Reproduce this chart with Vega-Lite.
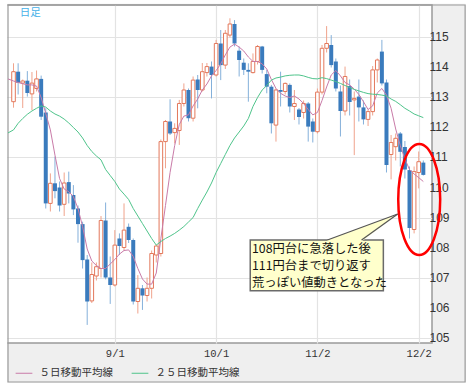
{
  "$schema": "https://vega.github.io/schema/vega-lite/v6.json",
  "autosize": "none",
  "width": 429,
  "height": 338,
  "padding": {"left": 3, "top": 5, "right": 44, "bottom": 44},
  "background": "#efefef",
  "config": {
    "view": {"fill": "white", "stroke": "#9a9a9a", "strokeWidth": 1.5},
    "axis": {"ticks": false, "tickSize": 0, "domain": false, "gridColor": "#e3e3e3", "gridWidth": 1.2, "labelColor": "#333333", "title": null}
  },
  "datasets": {
    "ohlc": [
      {"i": -1.2, "m5": 113.62, "m25": 111.82},
      {"i": 0, "o": 112.86, "h": 114.14, "l": 112.66, "c": 113.86, "m5": 113.55, "m25": 111.92},
      {"i": 1, "o": 113.86, "h": 114.14, "l": 113.1, "c": 113.49, "m5": 113.5, "m25": 112.14},
      {"i": 2, "o": 113.48, "h": 113.6, "l": 112.65, "c": 113.55, "m5": 113.46, "m25": 112.3},
      {"i": 3, "o": 113.56, "h": 113.88, "l": 113.03, "c": 113.15, "m5": 113.42, "m25": 112.44},
      {"i": 4, "o": 113.12, "h": 113.85, "l": 112.58, "c": 113.48, "m5": 113.42, "m25": 112.55},
      {"i": 5, "o": 113.3, "h": 113.9, "l": 113.2, "c": 113.62, "m5": 113.38, "m25": 112.64},
      {"i": 6, "o": 113.62, "h": 113.73, "l": 112.25, "c": 112.36, "m5": 113.0, "m25": 112.72},
      {"i": 7, "o": 112.5, "h": 112.64, "l": 109.3, "c": 109.47, "m5": 112.47, "m25": 112.68},
      {"i": 8, "o": 109.47, "h": 110.47, "l": 109.2, "c": 110.14, "m5": 111.92, "m25": 112.55},
      {"i": 9, "o": 110.14, "h": 111.03, "l": 109.64, "c": 109.88, "m5": 111.08, "m25": 112.45},
      {"i": 10, "o": 110.0, "h": 110.2, "l": 109.2, "c": 109.4, "m5": 110.3, "m25": 112.38},
      {"i": 11, "o": 109.44, "h": 110.5, "l": 109.05, "c": 110.15, "m5": 109.95, "m25": 112.28},
      {"i": 12, "o": 110.18, "h": 110.53, "l": 109.47, "c": 109.8, "m5": 109.86, "m25": 112.15},
      {"i": 13, "o": 109.75, "h": 110.08, "l": 109.08, "c": 109.27, "m5": 109.7, "m25": 112.0},
      {"i": 14, "o": 109.3, "h": 109.4, "l": 108.16, "c": 108.78, "m5": 109.3, "m25": 111.85},
      {"i": 15, "o": 108.78, "h": 108.86, "l": 107.3, "c": 107.58, "m5": 108.7, "m25": 111.65},
      {"i": 16, "o": 107.6, "h": 107.75, "l": 105.42, "c": 106.2, "m5": 107.95, "m25": 111.4},
      {"i": 17, "o": 106.22, "h": 107.5, "l": 106.15, "c": 107.1, "m5": 107.55, "m25": 111.2},
      {"i": 18, "o": 107.05, "h": 107.5, "l": 106.9, "c": 107.36, "m5": 107.4, "m25": 111.05},
      {"i": 19, "o": 107.3, "h": 109.05, "l": 107.0, "c": 108.9, "m5": 107.3, "m25": 110.92},
      {"i": 20, "o": 108.9, "h": 109.5, "l": 106.94, "c": 107.0, "m5": 107.3, "m25": 110.6},
      {"i": 21, "o": 107.0, "h": 107.7, "l": 106.12, "c": 106.75, "m5": 107.45, "m25": 110.4},
      {"i": 22, "o": 106.75, "h": 108.58, "l": 106.7, "c": 108.08, "m5": 107.6, "m25": 110.2},
      {"i": 23, "o": 108.3, "h": 108.47, "l": 107.75, "c": 108.05, "m5": 107.78, "m25": 109.95},
      {"i": 24, "o": 108.0, "h": 109.47, "l": 107.9, "c": 108.58, "m5": 107.9, "m25": 109.78},
      {"i": 25, "o": 108.69, "h": 108.8, "l": 108.15, "c": 108.25, "m5": 107.92, "m25": 109.6},
      {"i": 26, "o": 108.25, "h": 108.3, "l": 106.1, "c": 106.2, "m5": 107.7, "m25": 109.3},
      {"i": 27, "o": 106.2, "h": 107.08, "l": 105.8, "c": 106.64, "m5": 107.3, "m25": 109.05},
      {"i": 28, "o": 106.64, "h": 106.75, "l": 105.92, "c": 106.4, "m5": 106.95, "m25": 108.8},
      {"i": 29, "o": 106.4, "h": 107.0, "l": 106.2, "c": 106.64, "m5": 106.78, "m25": 108.55},
      {"i": 30, "o": 106.64, "h": 107.9, "l": 106.3, "c": 107.8, "m5": 106.78, "m25": 108.3},
      {"i": 31, "o": 107.75, "h": 108.1, "l": 107.5, "c": 108.05, "m5": 107.15, "m25": 108.08},
      {"i": 32, "o": 107.8, "h": 111.6, "l": 107.7, "c": 111.53, "m5": 108.3, "m25": 108.2},
      {"i": 33, "o": 111.53, "h": 112.25, "l": 110.64, "c": 112.2, "m5": 109.4, "m25": 108.3},
      {"i": 34, "o": 112.2, "h": 112.94, "l": 111.75, "c": 111.8, "m5": 110.5, "m25": 108.38},
      {"i": 35, "o": 111.83, "h": 112.14, "l": 111.47, "c": 111.97, "m5": 111.4, "m25": 108.47},
      {"i": 36, "o": 111.9, "h": 112.92, "l": 111.42, "c": 112.8, "m5": 112.1, "m25": 108.58},
      {"i": 37, "o": 112.8, "h": 113.47, "l": 112.7, "c": 113.25, "m5": 112.38, "m25": 108.7},
      {"i": 38, "o": 113.25, "h": 113.3, "l": 112.2, "c": 112.31, "m5": 112.42, "m25": 108.85},
      {"i": 39, "o": 112.31, "h": 113.7, "l": 112.2, "c": 113.58, "m5": 112.72, "m25": 109.0},
      {"i": 40, "o": 113.6, "h": 113.75, "l": 112.64, "c": 113.25, "m5": 112.95, "m25": 109.3},
      {"i": 41, "o": 113.25, "h": 114.15, "l": 113.2, "c": 113.86, "m5": 113.25, "m25": 109.58},
      {"i": 42, "o": 113.83, "h": 114.15, "l": 113.7, "c": 114.03, "m5": 113.45, "m25": 109.85},
      {"i": 43, "o": 114.03, "h": 114.2, "l": 112.97, "c": 113.75, "m5": 113.72, "m25": 110.15},
      {"i": 44, "o": 113.75, "h": 114.92, "l": 113.7, "c": 114.8, "m5": 113.9, "m25": 110.5},
      {"i": 45, "o": 114.8, "h": 115.25, "l": 113.58, "c": 114.08, "m5": 114.12, "m25": 110.8},
      {"i": 46, "o": 114.08, "h": 115.25, "l": 113.95, "c": 115.14, "m5": 114.42, "m25": 111.1},
      {"i": 47, "o": 115.08, "h": 115.64, "l": 115.0, "c": 115.45, "m5": 114.68, "m25": 111.4},
      {"i": 48, "o": 115.45, "h": 115.58, "l": 114.7, "c": 114.8, "m5": 114.78, "m25": 111.65},
      {"i": 49, "o": 114.56, "h": 114.7, "l": 113.7, "c": 114.25, "m5": 114.68, "m25": 111.85},
      {"i": 50, "o": 114.16, "h": 114.3, "l": 113.75, "c": 113.92, "m5": 114.55, "m25": 112.05},
      {"i": 51, "o": 113.92, "h": 114.14, "l": 112.86, "c": 113.86, "m5": 114.35, "m25": 112.3},
      {"i": 52, "o": 113.83, "h": 114.47, "l": 113.8, "c": 114.2, "m5": 114.2, "m25": 112.7},
      {"i": 53, "o": 114.2, "h": 114.75, "l": 114.1, "c": 114.7, "m5": 114.2, "m25": 113.0},
      {"i": 54, "o": 114.7, "h": 114.72, "l": 113.8, "c": 113.92, "m5": 114.12, "m25": 113.25},
      {"i": 55, "o": 113.78, "h": 113.92, "l": 113.14, "c": 113.36, "m5": 113.95, "m25": 113.4},
      {"i": 56, "o": 113.36, "h": 113.42, "l": 111.8, "c": 112.14, "m5": 113.6, "m25": 113.58},
      {"i": 57, "o": 112.08, "h": 113.3, "l": 111.53, "c": 113.25, "m5": 113.3, "m25": 113.65},
      {"i": 58, "o": 113.25, "h": 113.86, "l": 112.7, "c": 113.19, "m5": 113.14, "m25": 113.68},
      {"i": 59, "o": 113.2, "h": 113.5, "l": 113.1, "c": 113.47, "m5": 113.05, "m25": 113.72},
      {"i": 60, "o": 113.42, "h": 113.47, "l": 112.5, "c": 112.7, "m5": 113.0, "m25": 113.74},
      {"i": 61, "o": 112.7, "h": 113.25, "l": 112.25, "c": 112.8, "m5": 113.05, "m25": 113.75},
      {"i": 62, "o": 112.6, "h": 112.65, "l": 112.1, "c": 112.35, "m5": 112.95, "m25": 113.75},
      {"i": 63, "o": 112.5, "h": 112.9, "l": 112.3, "c": 112.8, "m5": 112.8, "m25": 113.72},
      {"i": 64, "o": 112.8, "h": 112.85, "l": 111.53, "c": 112.03, "m5": 112.6, "m25": 113.67},
      {"i": 65, "o": 112.2, "h": 112.3, "l": 111.5, "c": 111.86, "m5": 112.42, "m25": 113.63},
      {"i": 66, "o": 111.86, "h": 113.3, "l": 111.8, "c": 113.18, "m5": 112.5, "m25": 113.62},
      {"i": 67, "o": 113.18, "h": 114.75, "l": 113.1, "c": 114.64, "m5": 112.9, "m25": 113.66},
      {"i": 68, "o": 114.64, "h": 115.38, "l": 114.5, "c": 114.8, "m5": 113.35, "m25": 113.63},
      {"i": 69, "o": 114.75, "h": 115.08, "l": 114.0, "c": 114.08, "m5": 113.75, "m25": 113.58},
      {"i": 70, "o": 114.2, "h": 114.3, "l": 113.2, "c": 113.3, "m5": 113.9, "m25": 113.53},
      {"i": 71, "o": 113.2, "h": 113.4, "l": 111.7, "c": 112.55, "m5": 113.72, "m25": 113.47},
      {"i": 72, "o": 112.55, "h": 114.03, "l": 112.4, "c": 113.7, "m5": 113.5, "m25": 113.4},
      {"i": 73, "o": 113.38, "h": 113.6, "l": 112.4, "c": 112.85, "m5": 113.42, "m25": 113.33},
      {"i": 74, "o": 112.92, "h": 113.2, "l": 111.08, "c": 112.97, "m5": 113.28, "m25": 113.27},
      {"i": 75, "o": 113.03, "h": 113.6, "l": 112.2, "c": 112.67, "m5": 113.1, "m25": 113.22},
      {"i": 76, "o": 112.67, "h": 112.9, "l": 112.1, "c": 112.27, "m5": 112.86, "m25": 113.17},
      {"i": 77, "o": 112.27, "h": 112.6, "l": 112.05, "c": 112.53, "m5": 112.6, "m25": 113.13},
      {"i": 78, "o": 112.53, "h": 114.05, "l": 112.4, "c": 113.92, "m5": 112.72, "m25": 113.11},
      {"i": 79, "o": 113.92, "h": 114.3, "l": 113.5, "c": 114.25, "m5": 113.15, "m25": 113.1},
      {"i": 80, "o": 114.53, "h": 114.92, "l": 113.4, "c": 113.47, "m5": 113.3, "m25": 113.08},
      {"i": 81, "o": 113.5, "h": 113.6, "l": 110.5, "c": 110.75, "m5": 113.08, "m25": 113.05},
      {"i": 82, "o": 111.1, "h": 111.75, "l": 110.27, "c": 111.5, "m5": 112.64, "m25": 112.95},
      {"i": 83, "o": 111.36, "h": 111.8, "l": 110.9, "c": 111.64, "m5": 111.95, "m25": 112.87},
      {"i": 84, "o": 111.8, "h": 111.85, "l": 110.7, "c": 111.19, "m5": 111.4, "m25": 112.76},
      {"i": 85, "o": 111.35, "h": 111.55, "l": 110.3, "c": 110.6, "m5": 110.95, "m25": 112.64},
      {"i": 86, "o": 110.58, "h": 110.7, "l": 108.3, "c": 108.65, "m5": 110.6, "m25": 112.55},
      {"i": 87, "o": 108.6, "h": 110.7, "l": 108.47, "c": 110.53, "m5": 110.45, "m25": 112.45},
      {"i": 88, "o": 110.5, "h": 111.2, "l": 109.97, "c": 110.86, "m5": 110.33, "m25": 112.39},
      {"i": 89, "o": 110.83, "h": 110.9, "l": 110.4, "c": 110.42, "m5": 110.2, "m25": 112.33}
    ],
    "ylabels": [
      {"v": 105}, {"v": 106}, {"v": 107}, {"v": 108}, {"v": 109}, {"v": 110},
      {"v": 111}, {"v": 112}, {"v": 113}, {"v": 114}, {"v": 115}
    ],
    "outer": [{"x1": -2.643, "x2": 99.48, "y1": 116.323, "y2": 103.297}],
    "frame": [{"x1": -1.2, "x2": 98.08, "y1": 116.083, "y2": 103.517}],
    "box": [{"x1": 51.41, "x2": 80.32, "y1": 108.25, "y2": 106.56}],
    "tri": [
      {"tx": 68.17, "ty": 108.25, "ty2": 108.2},
      {"tx": 75.59, "ty": 108.67, "ty2": 108.2},
      {"tx": 83.44, "ty": 109.117, "ty2": 109.117}
    ],
    "triEdges": [
      {"ex": 68.17, "ey": 108.25, "k": "a"},
      {"ex": 83.44, "ey": 109.117, "k": "a"},
      {"ex": 75.59, "ey": 108.25, "k": "b"},
      {"ex": 83.44, "ey": 109.117, "k": "b"}
    ],
    "notes": [
      {"tx": 51.8, "ty": 107.94, "t": "108円台に急落した後\n111円台まで切り返す\n荒っぽい値動きとなった"}
    ],
    "ellipse": [{"ex": 88.11, "ey": 109.6}],
    "tag": [{"tx": 1.35, "ty": 115.83, "t": "日足"}]
  },
  "layer": [
    {
      "data": {"name": "ohlc"},
      "transform": [{"filter": "isValid(datum.o) && datum.c >= datum.o"}],
      "mark": {"type": "rule", "color": "#f0a38c", "strokeWidth": 1},
      "encoding": {
        "x": {"field": "i", "type": "quantitative", "scale": {"domain": [-1.2, 89.8], "nice": false, "zero": false},
          "axis": {"values": [22, 44, 66, 88], "grid": true, "labelExpr": "datum.value == 22 ? '9/1' : datum.value == 44 ? '10/1' : datum.value == 66 ? '11/2' : '12/2'", "labelFont": "Liberation Mono", "labelFontSize": 10.5, "labelPadding": 5}},
        "y": {"field": "l", "type": "quantitative", "scale": {"domain": [104.817, 116.083], "nice": false, "zero": false},
          "axis": {"orient": "right", "values": [105, 106, 107, 108, 109, 110, 111, 112, 113, 114, 115], "grid": true, "labels": false}},
        "y2": {"field": "h"}
      }
    },
    {
      "data": {"name": "ylabels"},
      "mark": {"type": "text", "align": "left", "baseline": "middle", "dx": 2.5, "font": "Liberation Sans", "fontSize": 12, "color": "#333333", "clip": false},
      "encoding": {
        "x": {"datum": 89.8, "type": "quantitative", "scale": {"domain": [-1.2, 89.8], "nice": false, "zero": false}},
        "y": {"field": "v", "type": "quantitative", "scale": {"domain": [104.817, 116.083], "nice": false, "zero": false}},
        "text": {"field": "v", "type": "quantitative", "format": "d"}
      }
    },
    {
      "data": {"name": "outer"},
      "mark": {"type": "rect", "fill": null, "stroke": "white", "strokeWidth": 12, "clip": false},
      "encoding": {
        "x": {"field": "x1", "type": "quantitative", "scale": {"domain": [-1.2, 89.8], "nice": false, "zero": false}},
        "x2": {"field": "x2"},
        "y": {"field": "y1", "type": "quantitative", "scale": {"domain": [104.817, 116.083], "nice": false, "zero": false}},
        "y2": {"field": "y2"}
      }
    },
    {
      "data": {"name": "frame"},
      "mark": {"type": "rect", "fill": null, "stroke": "#9a9a9a", "strokeWidth": 1.2, "clip": false},
      "encoding": {
        "x": {"field": "x1", "type": "quantitative", "scale": {"domain": [-1.2, 89.8], "nice": false, "zero": false}},
        "x2": {"field": "x2"},
        "y": {"field": "y1", "type": "quantitative", "scale": {"domain": [104.817, 116.083], "nice": false, "zero": false}},
        "y2": {"field": "y2"}
      }
    },
    {
      "data": {"name": "ohlc"},
      "transform": [{"filter": "isValid(datum.o) && datum.c < datum.o"}],
      "mark": {"type": "rule", "color": "#84b0da", "strokeWidth": 1},
      "encoding": {
        "x": {"field": "i", "type": "quantitative", "scale": {"domain": [-1.2, 89.8], "nice": false, "zero": false}},
        "y": {"field": "l", "type": "quantitative", "scale": {"domain": [104.817, 116.083], "nice": false, "zero": false}},
        "y2": {"field": "h"}
      }
    },
    {
      "data": {"name": "ohlc"},
      "transform": [{"filter": "isValid(datum.o) && datum.c >= datum.o"}],
      "mark": {"type": "bar", "width": 3.6, "fill": "white", "stroke": "#e3785b", "strokeWidth": 1},
      "encoding": {
        "x": {"field": "i", "type": "quantitative", "scale": {"domain": [-1.2, 89.8], "nice": false, "zero": false}},
        "y": {"field": "o", "type": "quantitative", "scale": {"domain": [104.817, 116.083], "nice": false, "zero": false}},
        "y2": {"field": "c"}
      }
    },
    {
      "data": {"name": "ohlc"},
      "transform": [{"filter": "isValid(datum.o) && datum.c < datum.o"}],
      "mark": {"type": "bar", "width": 4, "fill": "#3a7bbd"},
      "encoding": {
        "x": {"field": "i", "type": "quantitative", "scale": {"domain": [-1.2, 89.8], "nice": false, "zero": false}},
        "y": {"field": "o", "type": "quantitative", "scale": {"domain": [104.817, 116.083], "nice": false, "zero": false}},
        "y2": {"field": "c"}
      }
    },
    {
      "data": {"name": "ohlc"},
      "transform": [{"fold": ["m5", "m25"], "as": ["series", "value"]}],
      "mark": {"type": "line", "strokeWidth": 1, "clip": true},
      "encoding": {
        "x": {"field": "i", "type": "quantitative", "scale": {"domain": [-1.2, 89.8], "nice": false, "zero": false}},
        "y": {"field": "value", "type": "quantitative", "scale": {"domain": [104.817, 116.083], "nice": false, "zero": false}},
        "color": {
          "field": "series", "type": "nominal",
          "scale": {"domain": ["m5", "m25"], "range": ["#c97ba8", "#4fc48b"]},
          "legend": {
            "orient": "none", "legendX": 12, "legendY": 359, "direction": "horizontal", "title": null,
            "symbolType": "stroke", "symbolSize": 280, "symbolStrokeWidth": 1,
            "labelFont": "Noto Sans CJK JP", "labelFontSize": 10.5, "labelColor": "#333333",
            "labelOffset": 6.5, "columnPadding": 16,
            "labelExpr": "datum.value == 'm5' ? '５日移動平均線' : '２５日移動平均線'"
          }
        }
      }
    },
    {
      "data": {"name": "box"},
      "mark": {"type": "rect", "fill": "#ffffcc", "stroke": "#6a6a6a", "strokeWidth": 1.5},
      "encoding": {
        "x": {"field": "x1", "type": "quantitative", "scale": {"domain": [-1.2, 89.8], "nice": false, "zero": false}},
        "x2": {"field": "x2"},
        "y": {"field": "y1", "type": "quantitative", "scale": {"domain": [104.817, 116.083], "nice": false, "zero": false}},
        "y2": {"field": "y2"}
      }
    },
    {
      "data": {"name": "tri"},
      "mark": {"type": "area", "fill": "#ffffcc", "opacity": 1},
      "encoding": {
        "x": {"field": "tx", "type": "quantitative", "scale": {"domain": [-1.2, 89.8], "nice": false, "zero": false}},
        "y": {"field": "ty", "type": "quantitative", "scale": {"domain": [104.817, 116.083], "nice": false, "zero": false}},
        "y2": {"field": "ty2"}
      }
    },
    {
      "data": {"name": "triEdges"},
      "mark": {"type": "line", "color": "#555555", "strokeWidth": 1.2},
      "encoding": {
        "x": {"field": "ex", "type": "quantitative", "scale": {"domain": [-1.2, 89.8], "nice": false, "zero": false}},
        "y": {"field": "ey", "type": "quantitative", "scale": {"domain": [104.817, 116.083], "nice": false, "zero": false}},
        "detail": {"field": "k"}
      }
    },
    {
      "data": {"name": "notes"},
      "mark": {"type": "text", "align": "left", "baseline": "middle", "lineBreak": "\n", "lineHeight": 16.7, "font": "Noto Sans CJK JP", "fontSize": 12.3, "color": "#111111"},
      "encoding": {
        "x": {"field": "tx", "type": "quantitative", "scale": {"domain": [-1.2, 89.8], "nice": false, "zero": false}},
        "y": {"field": "ty", "type": "quantitative", "scale": {"domain": [104.817, 116.083], "nice": false, "zero": false}},
        "text": {"field": "t"}
      }
    },
    {
      "data": {"name": "ellipse"},
      "mark": {
        "type": "point", "filled": false, "opacity": 1, "stroke": "#ff0000", "strokeWidth": 2.5, "size": 12321, "clip": false,
        "shape": "M 0 -1 C 0.209 -1 0.378 -0.552 0.378 0 C 0.378 0.552 0.209 1 0 1 C -0.209 1 -0.378 0.552 -0.378 0 C -0.378 -0.552 -0.209 -1 0 -1 Z"
      },
      "encoding": {
        "x": {"field": "ex", "type": "quantitative", "scale": {"domain": [-1.2, 89.8], "nice": false, "zero": false}},
        "y": {"field": "ey", "type": "quantitative", "scale": {"domain": [104.817, 116.083], "nice": false, "zero": false}}
      }
    },
    {
      "data": {"name": "tag"},
      "mark": {"type": "text", "align": "left", "baseline": "middle", "font": "Noto Sans CJK JP", "fontSize": 10.5, "color": "#45b0e8"},
      "encoding": {
        "x": {"field": "tx", "type": "quantitative", "scale": {"domain": [-1.2, 89.8], "nice": false, "zero": false}},
        "y": {"field": "ty", "type": "quantitative", "scale": {"domain": [104.817, 116.083], "nice": false, "zero": false}},
        "text": {"field": "t"}
      }
    }
  ]
}
